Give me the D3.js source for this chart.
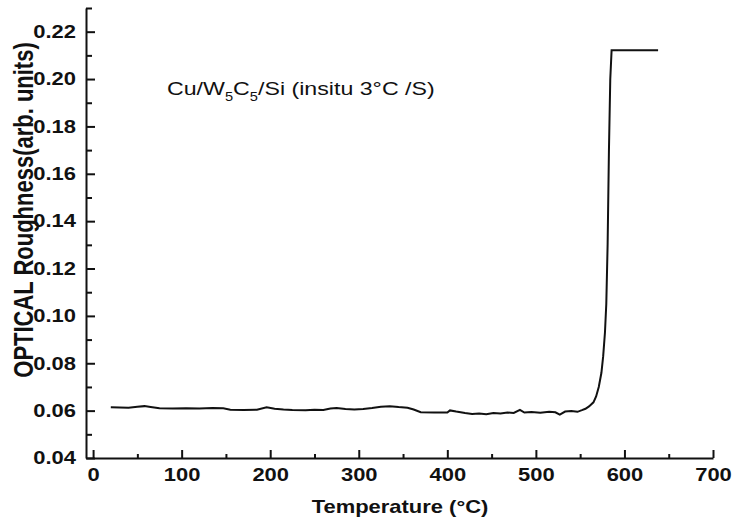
<!DOCTYPE html>
<html>
<head>
<meta charset="utf-8">
<script src="https://cdn.jsdelivr.net/npm/d3@7/dist/d3.min.js"></script>
<style>
  html, body { margin: 0; padding: 0; background: #fff; }
  svg { display: block; }
  text { font-family: "Liberation Sans", Arial, sans-serif; fill: #111; }
</style>
</head>
<body>
<svg id="chart" width="735" height="524"></svg>
<script>
// ---- data ----
const temperature = [20, 30, 40, 50, 58, 65, 75, 90, 105, 120, 135, 147, 155, 170, 185, 196, 205, 215, 225, 240, 250, 260, 268, 275, 285, 295, 305, 315, 325, 335, 345, 355, 362, 370, 385, 400, 403, 410, 420, 428, 436, 444, 452, 460, 468, 475, 482, 487, 495, 505, 515, 522, 527, 533, 540, 547, 552, 556, 560, 565, 568, 571, 574, 576, 578, 579.5, 581, 582.5, 584, 585.5, 600, 620, 638];
const roughness = [0.0614, 0.0613, 0.0612, 0.0616, 0.0619, 0.0615, 0.0610, 0.0609, 0.0610, 0.0609, 0.0611, 0.0610, 0.0604, 0.0603, 0.0604, 0.0614, 0.0608, 0.0605, 0.0603, 0.0602, 0.0604, 0.0603, 0.0609, 0.0611, 0.0607, 0.0605, 0.0607, 0.0611, 0.0616, 0.0619, 0.0615, 0.0612, 0.0605, 0.0593, 0.0592, 0.0592, 0.0601, 0.0596, 0.0590, 0.0586, 0.0588, 0.0585, 0.0590, 0.0588, 0.0592, 0.0590, 0.0603, 0.0592, 0.0594, 0.0591, 0.0595, 0.0593, 0.0583, 0.0596, 0.0598, 0.0595, 0.0602, 0.0608, 0.0618, 0.0635, 0.0660, 0.0700, 0.0760, 0.0830, 0.0930, 0.1050, 0.1300, 0.1700, 0.2000, 0.2122, 0.2122, 0.2122, 0.2122];

const xMajorTicks = [0, 100, 200, 300, 400, 500, 600, 700];
const xMinorTicks = [50, 150, 250, 350, 450, 550, 650];
const yMajorTicks = [0.04, 0.06, 0.08, 0.10, 0.12, 0.14, 0.16, 0.18, 0.20, 0.22];
const yMinorTicks = [0.05, 0.07, 0.09, 0.11, 0.13, 0.15, 0.17, 0.19, 0.21, 0.23];

const xTitle = "Temperature (\u00B0C)";
const yTitle = "OPTICAL Roughness(arb. units)";

// ---- layout ----
const svg = d3.select("#chart");
const STRETCH = 1.22;
const x = d3.scaleLinear().domain([-8, 700]).range([86, 713]);
const y = d3.scaleLinear().domain([0.04, 0.23]).range([458, 8]);

function stretchTexts(sel) {
  sel.each(function () {
    const t = d3.select(this);
    const tx = +t.attr("x") || 0, ty = +t.attr("y") || 0;
    t.attr("x", 0).attr("y", 0)
     .attr("transform", `translate(${tx},${ty}) scale(${STRETCH},1)`);
  });
}

function styleAxis(g) {
  g.select(".domain").attr("stroke", "#111").attr("stroke-width", 2);
  g.selectAll(".tick line").attr("stroke", "#111").attr("stroke-width", 2);
}

// x axis
const gx = svg.append("g").attr("transform", `translate(0,${y.range()[0]})`);
gx.call(d3.axisBottom(x).tickValues(xMajorTicks).tickFormat(d3.format("d"))
  .tickSizeInner(-8).tickSizeOuter(0).tickPadding(10));
gx.selectAll(".tick text").attr("font-size", 18).attr("font-weight", "bold")
  .attr("font-family", "Liberation Sans, Arial, sans-serif").attr("fill", "#111");
stretchTexts(gx.selectAll(".tick text"));
styleAxis(gx);
const gxm = svg.append("g").attr("transform", `translate(0,${y.range()[0]})`);
gxm.call(d3.axisBottom(x).tickValues(xMinorTicks).tickFormat("").tickSizeInner(-4).tickSizeOuter(0));
gxm.select(".domain").remove();
styleAxis(gxm);

// y axis
const gy = svg.append("g").attr("transform", `translate(${x.range()[0]},0)`);
gy.call(d3.axisLeft(y).tickValues(yMajorTicks).tickFormat(d3.format(".2f"))
  .tickSizeInner(-9).tickSizeOuter(0).tickPadding(10));
gy.selectAll(".tick text").attr("font-size", 18).attr("font-weight", "bold")
  .attr("font-family", "Liberation Sans, Arial, sans-serif").attr("fill", "#111");
stretchTexts(gy.selectAll(".tick text"));
styleAxis(gy);
const gym = svg.append("g").attr("transform", `translate(${x.range()[0]},0)`);
gym.call(d3.axisLeft(y).tickValues(yMinorTicks).tickFormat("").tickSizeInner(-6).tickSizeOuter(0));
gym.select(".domain").remove();
styleAxis(gym);

// data line
const data = temperature.map((t, i) => ({ t, v: roughness[i] }));
svg.append("path")
  .datum(data)
  .attr("fill", "none")
  .attr("stroke", "#111")
  .attr("stroke-width", 2)
  .attr("stroke-linejoin", "miter")
  .attr("d", d3.line().x(d => x(d.t)).y(d => y(d.v)));

// axis titles
svg.append("text")
  .attr("transform", `translate(400,513) scale(${STRETCH},1)`)
  .attr("text-anchor", "middle")
  .attr("font-size", 18).attr("font-weight", "bold")
  .text(xTitle);

svg.append("text")
  .attr("transform", `translate(33,210) scale(${STRETCH},1) rotate(-90)`)
  .attr("text-anchor", "middle")
  .attr("font-size", 22).attr("font-weight", "bold")
  .text(yTitle);

// annotation
const ann = svg.append("text")
  .attr("transform", `translate(167,95) scale(${STRETCH},1)`)
  .attr("font-size", 19);
ann.append("tspan").text("Cu/W");
ann.append("tspan").attr("font-size", 12).attr("dy", 6).text("5");
ann.append("tspan").attr("dy", -6).text("C");
ann.append("tspan").attr("font-size", 12).attr("dy", 6).text("5");
ann.append("tspan").attr("dy", -6).text("/Si (insitu 3\u00B0C /S)");
</script>
</body>
</html>
